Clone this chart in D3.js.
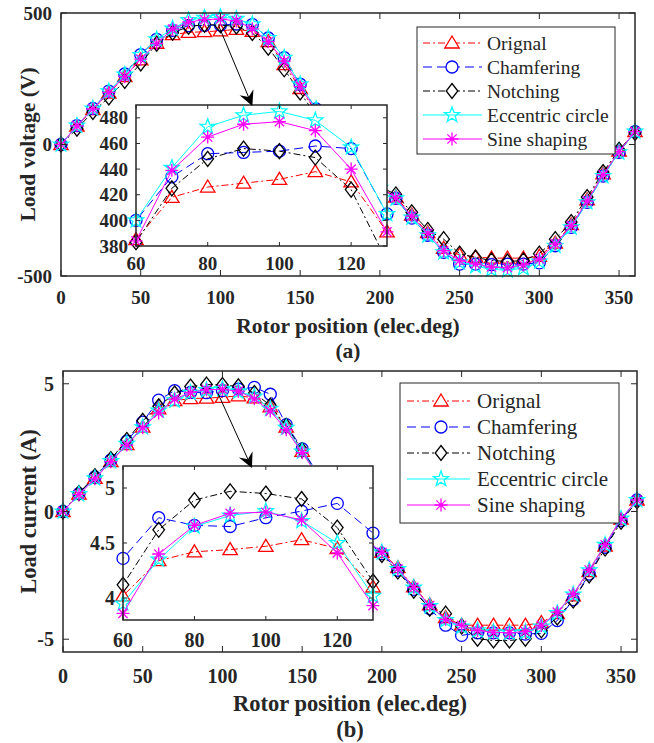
<!DOCTYPE html>
<html>
<head>
<meta charset="utf-8">
<script src="https://cdn.jsdelivr.net/npm/d3@7"></script>
<style>
  body { margin: 0; background: #fff; }
  svg text { font-family: "Liberation Serif", "Times New Roman", serif; fill: #262626; }
</style>
</head>
<body>
<svg id="fig" width="654" height="743"></svg>
<script>
// Rotor position samples (elec.deg)
var angle = [0, 10, 20, 30, 40, 50, 60, 70, 80, 90, 100, 110, 120, 130, 140, 150, 160, 170, 180,
             190, 200, 210, 220, 230, 240, 250, 260, 270, 280, 290, 300, 310, 320, 330, 340, 350, 360];

// Load voltage (V)
var voltOrignal   = [0, 70, 133, 195, 258, 322, 385, 418, 426, 429, 432, 438, 430, 391, 304, 213, 125, 40, -45,
                     -115, -160, -200, -268, -335, -395, -420, -428, -432, -432, -432, -425, -375, -305, -210, -112, -25, 49];
var voltChamfering = [0, 72, 137, 203, 268, 342, 400, 434, 452, 453, 454, 458, 456, 405, 330, 229, 135, 45, -45,
                     -118, -165, -205, -280, -345, -410, -455, -455, -457, -455, -455, -450, -385, -315, -220, -120, -30, 49];
var voltNotching  = [0, 60, 124, 179, 242, 308, 383, 425, 448, 456, 454, 449, 424, 368, 286, 198, 110, 25, -55,
                     -120, -160, -190, -258, -325, -360, -415, -430, -441, -445, -441, -415, -360, -295, -200, -105, -20, 44];
var voltEccentric = [0, 72, 137, 202, 266, 340, 400, 441, 473, 482, 485, 478, 457, 405, 330, 229, 135, 45, -45,
                     -118, -165, -205, -278, -345, -410, -448, -462, -475, -478, -470, -445, -385, -315, -220, -120, -30, 49];
var voltSine      = [0, 71, 135, 198, 258, 325, 384, 439, 465, 475, 477, 470, 440, 391, 317, 220, 128, 40, -47,
                     -117, -163, -203, -272, -338, -404, -441, -454, -466, -468, -458, -435, -378, -309, -215, -115, -27, 49];

// Load current (A)
var currOrignal   = [0, 0.68, 1.30, 1.95, 2.62, 3.30, 4.02, 4.34, 4.42, 4.44, 4.47, 4.53, 4.45, 4.10, 3.30, 2.35, 1.40, 0.50, -0.40,
                     -1.10, -1.60, -2.20, -2.95, -3.65, -4.15, -4.45, -4.45, -4.45, -4.45, -4.45, -4.35, -4.00, -3.30, -2.35, -1.35, -0.30, 0.45];
var currChamfering = [0, 0.70, 1.35, 2.02, 2.75, 3.50, 4.36, 4.73, 4.66, 4.65, 4.73, 4.79, 4.86, 4.59, 3.40, 2.45, 1.45, 0.52, -0.42,
                     -1.15, -1.65, -2.30, -3.05, -3.80, -4.45, -4.85, -4.75, -4.75, -4.75, -4.80, -4.77, -4.27, -3.45, -2.45, -1.40, -0.35, 0.45];
var currNotching  = [0, 0.72, 1.38, 2.05, 2.80, 3.55, 4.12, 4.62, 4.89, 4.97, 4.95, 4.90, 4.64, 4.15, 3.35, 2.40, 1.42, 0.48, -0.45,
                     -1.18, -1.70, -2.35, -3.10, -3.80, -4.00, -4.50, -4.98, -5.05, -5.05, -4.98, -4.65, -4.15, -3.48, -2.50, -1.45, -0.40, 0.40];
var currEccentric = [0, 0.68, 1.30, 1.97, 2.65, 3.30, 3.95, 4.35, 4.65, 4.75, 4.79, 4.70, 4.50, 4.02, 3.28, 2.35, 1.40, 0.50, -0.40,
                     -1.10, -1.60, -2.25, -2.98, -3.70, -4.25, -4.50, -4.65, -4.72, -4.74, -4.72, -4.50, -3.98, -3.25, -2.30, -1.30, -0.28, 0.45];
var currSine      = [0, 0.67, 1.28, 1.95, 2.60, 3.28, 3.86, 4.40, 4.66, 4.77, 4.78, 4.71, 4.41, 3.93, 3.20, 2.30, 1.38, 0.48, -0.42,
                     -1.12, -1.60, -2.24, -2.97, -3.68, -4.22, -4.46, -4.66, -4.73, -4.75, -4.70, -4.46, -3.94, -3.23, -2.29, -1.30, -0.28, 0.45];

var seriesNames = ["Orignal", "Chamfering", "Notching", "Eccentric circle", "Sine shaping"];

// tick values
var xTicks = [0, 50, 100, 150, 200, 250, 300, 350];
var voltTicks = [-500, 0, 500];
var currTicks = [-5, 0, 5];
var insetXTicks = [60, 80, 100, 120];
var voltInsetTicks = [380, 400, 420, 440, 460, 480];
var currInsetTicks = [4, 4.5, 5];

// line styles (MATLAB-like)
var colors  = ["#ff0000", "#0000ff", "#000000", "#00ffff", "#ff00ff"];
var dashes  = ["7,3,2,3", "9,5", "7,3,2,3", null, null];
var markers = ["triangle", "circle", "diamond", "pentagram", "asterisk"];
var axisColor = "#262626";

function markerPath(type) {
  if (type === "triangle") return "M0,-7L7.2,5L-7.2,5Z";
  if (type === "circle") return "M-6,0a6,6 0 1,0 12,0a6,6 0 1,0 -12,0";
  if (type === "diamond") return "M0,-7.5L5.8,0L0,7.5L-5.8,0Z";
  if (type === "pentagram") {
    var pts = [];
    for (var i = 0; i < 10; i++) {
      var r = i % 2 === 0 ? 8 : 3.3;
      var a = -Math.PI / 2 + i * Math.PI / 5;
      pts.push([r * Math.cos(a), r * Math.sin(a)]);
    }
    return "M" + pts.map(function(p) { return p[0].toFixed(2) + "," + p[1].toFixed(2); }).join("L") + "Z";
  }
  // asterisk: + and x combined
  return "M0,-6.5V6.5M-6.5,0H6.5M-4.6,-4.6L4.6,4.6M-4.6,4.6L4.6,-4.6";
}

var svg = d3.select("#fig");
var clipId = 0;

// Draws one set of axes (main plot or inset) with all five series
function drawAxes(g, opt) {
  var x = d3.scaleLinear().domain(opt.xDomain).range([opt.box.left, opt.box.right]);
  var y = d3.scaleLinear().domain(opt.yDomain).range([opt.box.bottom, opt.box.top]);
  var w = opt.box.right - opt.box.left;
  var h = opt.box.bottom - opt.box.top;

  var ax = g.append("g");
  ax.append("rect")
    .attr("x", opt.box.left).attr("y", opt.box.top)
    .attr("width", w).attr("height", h)
    .attr("fill", "#fff");

  var id = "clip" + (clipId++);
  ax.append("clipPath").attr("id", id)
    .append("rect")
    .attr("x", opt.box.left).attr("y", opt.box.top)
    .attr("width", w).attr("height", h);

  var line = d3.line()
    .x(function(d) { return x(d[0]); })
    .y(function(d) { return y(d[1]); });

  opt.series.forEach(function(vals, i) {
    var pts = angle.map(function(a, k) { return [a, vals[k]]; });
    var sg = ax.append("g");
    sg.append("path")
      .datum(pts)
      .attr("clip-path", "url(#" + id + ")")
      .attr("d", line)
      .attr("fill", "none")
      .attr("stroke", colors[i])
      .attr("stroke-width", 1)
      .attr("stroke-dasharray", dashes[i]);

    var inside = pts.filter(function(p) {
      return p[0] >= opt.xDomain[0] && p[0] <= opt.xDomain[1] &&
             p[1] >= opt.yDomain[0] && p[1] <= opt.yDomain[1];
    });
    sg.selectAll("path.mk")
      .data(inside)
      .enter().append("path")
      .attr("class", "mk")
      .attr("transform", function(d) { return "translate(" + x(d[0]) + "," + y(d[1]) + ")"; })
      .attr("d", markerPath(markers[i]))
      .attr("fill", "none")
      .attr("stroke", colors[i])
      .attr("stroke-width", 1.3);
  });

  // tick marks on all four sides, pointing inwards
  var tl = opt.tickLen;
  var tk = ax.append("g").attr("stroke", axisColor).attr("stroke-width", 1);
  opt.xTicks.forEach(function(t) {
    tk.append("line").attr("x1", x(t)).attr("x2", x(t)).attr("y1", opt.box.bottom).attr("y2", opt.box.bottom - tl);
    tk.append("line").attr("x1", x(t)).attr("x2", x(t)).attr("y1", opt.box.top).attr("y2", opt.box.top + tl);
  });
  opt.yTicks.forEach(function(t) {
    tk.append("line").attr("x1", opt.box.left).attr("x2", opt.box.left + tl).attr("y1", y(t)).attr("y2", y(t));
    tk.append("line").attr("x1", opt.box.right).attr("x2", opt.box.right - tl).attr("y1", y(t)).attr("y2", y(t));
  });

  ax.append("rect")
    .attr("x", opt.box.left).attr("y", opt.box.top)
    .attr("width", w).attr("height", h)
    .attr("fill", "none")
    .attr("stroke", axisColor)
    .attr("stroke-width", 1.5);

  // tick labels
  ax.append("g").selectAll("text")
    .data(opt.xTicks).enter().append("text")
    .attr("x", function(d) { return x(d); })
    .attr("y", opt.box.bottom + opt.xLabelGap)
    .attr("text-anchor", "middle")
    .attr("dominant-baseline", "central")
    .style("font-weight", "bold")
    .style("font-size", opt.tickSize + "px")
    .text(function(d) { return d; });

  ax.append("g").selectAll("text")
    .data(opt.yTicks).enter().append("text")
    .attr("x", opt.box.left - opt.yLabelGap)
    .attr("y", function(d) { return y(d); })
    .attr("text-anchor", "end")
    .attr("dominant-baseline", "central")
    .style("font-weight", "bold")
    .style("font-size", opt.tickSize + "px")
    .text(function(d) { return d; });

  return { x: x, y: y };
}

function drawLegend(g, opt) {
  var lg = g.append("g");
  lg.append("rect")
    .attr("x", opt.left).attr("y", opt.top)
    .attr("width", opt.right - opt.left).attr("height", opt.bottom - opt.top)
    .attr("fill", "#fff")
    .attr("stroke", axisColor)
    .attr("stroke-width", 1);

  seriesNames.forEach(function(name, i) {
    var yy = opt.firstRow + i * opt.rowStep;
    lg.append("line")
      .attr("x1", opt.lineX0).attr("x2", opt.lineX1)
      .attr("y1", yy).attr("y2", yy)
      .attr("stroke", colors[i])
      .attr("stroke-width", 1)
      .attr("stroke-dasharray", dashes[i]);
    lg.append("path")
      .attr("transform", "translate(" + opt.markerX + "," + yy + ")")
      .attr("d", markerPath(markers[i]))
      .attr("fill", i < 3 ? "#fff" : "none")
      .attr("stroke", colors[i])
      .attr("stroke-width", 1.3);
    lg.append("text")
      .attr("x", opt.textX).attr("y", yy)
      .attr("dominant-baseline", "central")
      .style("font-size", opt.fontSize + "px")
      .text(name);
  });
}

function drawArrow(g, from, to) {
  var dx = to[0] - from[0], dy = to[1] - from[1];
  var len = Math.sqrt(dx * dx + dy * dy);
  var ux = dx / len, uy = dy / len;
  var nx = -uy, ny = ux;
  var hl = 15, hw = 7.5;
  var bx = to[0] - ux * hl, by = to[1] - uy * hl;
  var mx = to[0] - ux * hl * 0.65, my = to[1] - uy * hl * 0.65;
  g.append("line")
    .attr("x1", from[0]).attr("y1", from[1])
    .attr("x2", mx).attr("y2", my)
    .attr("stroke", "#000").attr("stroke-width", 1);
  g.append("path")
    .attr("d", "M" + to[0] + "," + to[1] +
               "L" + (bx + nx * hw) + "," + (by + ny * hw) +
               "L" + mx + "," + my +
               "L" + (bx - nx * hw) + "," + (by - ny * hw) + "Z")
    .attr("fill", "#000");
}

function drawPanel(p) {
  var g = svg.append("g");
  var main = drawAxes(g, {
    box: p.box, xDomain: [0, 360], yDomain: p.yDomain,
    xTicks: xTicks, yTicks: p.yTicks, series: p.series,
    tickLen: 6, tickSize: p.tickSize, xLabelGap: p.xLabelGap, yLabelGap: 9
  });

  g.append("text")
    .attr("transform", "translate(" + p.yTitleX + "," + ((p.box.top + p.box.bottom) / 2) + ") rotate(-90)")
    .attr("text-anchor", "middle")
    .attr("dominant-baseline", "central")
    .style("font-weight", "bold")
    .style("font-size", p.titleSize + "px")
    .text(p.yTitle);

  g.append("text")
    .attr("x", (p.box.left + p.box.right) / 2)
    .attr("y", p.xTitleY)
    .attr("text-anchor", "middle")
    .attr("dominant-baseline", "central")
    .style("font-weight", "bold")
    .style("font-size", p.titleSize + "px")
    .text("Rotor position (elec.deg)");

  g.append("text")
    .attr("x", (p.box.left + p.box.right) / 2)
    .attr("y", p.captionY)
    .attr("text-anchor", "middle")
    .attr("dominant-baseline", "central")
    .style("font-weight", "bold")
    .style("font-size", p.titleSize + "px")
    .text(p.caption);

  drawLegend(g, p.legend);

  drawAxes(g, {
    box: p.inset, xDomain: [60, 130], yDomain: p.insetDomain,
    xTicks: insetXTicks, yTicks: p.insetTicks, series: p.series,
    tickLen: 4, tickSize: p.tickSize, xLabelGap: p.xLabelGap - 4, yLabelGap: 8
  });

  drawArrow(g,
    [main.x(p.arrow[0][0]), main.y(p.arrow[0][1])],
    [main.x(p.arrow[1][0]), main.y(p.arrow[1][1])]);
}

// (a) load voltage
drawPanel({
  box: { left: 61, right: 635, top: 13, bottom: 276 },
  yDomain: [-500, 500], yTicks: voltTicks,
  series: [voltOrignal, voltChamfering, voltNotching, voltEccentric, voltSine],
  tickSize: 19, titleSize: 21.5, xLabelGap: 21,
  yTitle: "Load voltage (V)", yTitleX: 28, xTitleY: 326, caption: "(a)", captionY: 351,
  legend: { left: 417, right: 615, top: 27, bottom: 154, firstRow: 43, rowStep: 24,
            lineX0: 423, lineX1: 482, markerX: 452, textX: 487, fontSize: 19.5 },
  inset: { left: 136, right: 387, top: 105, bottom: 246 },
  insetDomain: [380, 490], insetTicks: voltInsetTicks,
  arrow: [[99, 450], [120, 146]]
});

// (b) load current
drawPanel({
  box: { left: 63, right: 637, top: 371, bottom: 652 },
  yDomain: [-5.5, 5.5], yTicks: currTicks,
  series: [currOrignal, currChamfering, currNotching, currEccentric, currSine],
  tickSize: 20, titleSize: 22.5, xLabelGap: 24,
  yTitle: "Load current (A)", yTitleX: 28, xTitleY: 703, caption: "(b)", captionY: 729,
  legend: { left: 400, right: 619, top: 383, bottom: 523, firstRow: 401, rowStep: 26,
            lineX0: 407, lineX1: 470, markerX: 441, textX: 477, fontSize: 21 },
  inset: { left: 123, right: 373, top: 466, bottom: 620 },
  insetDomain: [3.8, 5.2], insetTicks: currInsetTicks,
  arrow: [[97, 4.65], [118.5, 1.7]]
});
</script>
</body>
</html>
